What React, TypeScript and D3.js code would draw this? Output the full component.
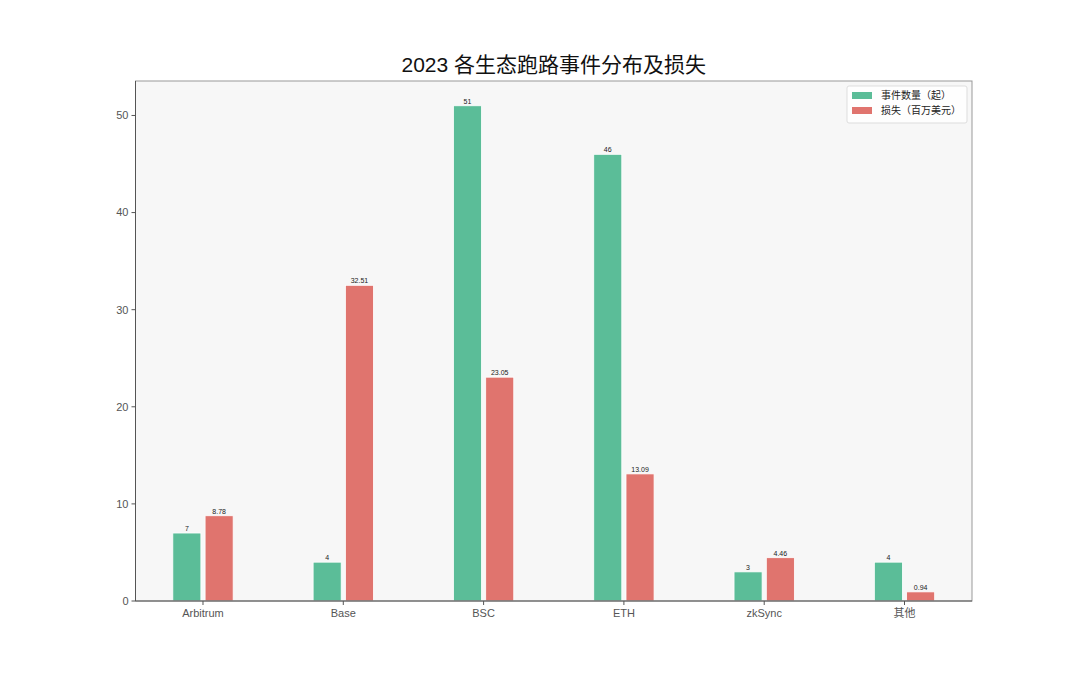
import { useMemo } from 'react';
import * as d3 from 'd3';

const categories = ['Arbitrum', 'Base', 'BSC', 'ETH', 'zkSync', '其他'];
const eventCounts = [7, 4, 51, 46, 3, 4];
const lossesMillion = [8.78, 32.51, 23.05, 13.09, 4.46, 0.94];
const countLabels = ['7', '4', '51', '46', '3', '4'];
const lossLabels = ['8.78', '32.51', '23.05', '13.09', '4.46', '0.94'];
const yTicks = [0, 10, 20, 30, 40, 50];
const seriesNames = ['事件数量（起）', '损失（百万美元）'];

const WIDTH = 1080;
const HEIGHT = 675;
const GREEN = '#5bbd98';
const RED = '#e0746e';
const FONT = '"Liberation Sans", "Noto Sans CJK SC", Arial, sans-serif';

export default function App() {
	const left = 135.5;
	const right = 972;
	const top = 81;
	const bottom = 601;

	const barWidth = 0.2;
	const offset = 0.115;

	const x = useMemo(
		() => d3.scaleLinear().domain([-0.481, categories.length - 1 + 0.481]).range([left, right]),
		[]
	);
	const y = useMemo(
		() => d3.scaleLinear().domain([0, d3.max(eventCounts)! * 1.05]).range([bottom, top]),
		[]
	);

	const bw = x(barWidth) - x(0);

	return (
		<div style={{ width: WIDTH, height: HEIGHT, margin: -8 }}>
			<svg width={WIDTH} height={HEIGHT} style={{ display: 'block', background: '#fff' }}>
				<rect x={left} y={top} width={right - left} height={bottom - top} fill="#f7f7f7" />

				{/* bars */}
				{categories.map((c, i) => {
					const gx = x(i - offset) - bw / 2;
					const rx = x(i + offset) - bw / 2;
					return (
						<g key={c}>
							<rect
								x={gx}
								y={y(eventCounts[i])}
								width={bw}
								height={y(0) - y(eventCounts[i])}
								fill={GREEN}
								stroke="#ffffff"
								strokeWidth={0.8}
							/>
							<rect
								x={rx}
								y={y(lossesMillion[i])}
								width={bw}
								height={y(0) - y(lossesMillion[i])}
								fill={RED}
								stroke="#ffffff"
								strokeWidth={0.8}
							/>
							<text
								x={gx + bw / 2}
								y={y(eventCounts[i]) - 2}
								textAnchor="middle"
								fontSize={7}
								fill="#222"
								fontFamily={FONT}
							>
								{countLabels[i]}
							</text>
							<text
								x={rx + bw / 2}
								y={y(lossesMillion[i]) - 2}
								textAnchor="middle"
								fontSize={7}
								fill="#222"
								fontFamily={FONT}
							>
								{lossLabels[i]}
							</text>
						</g>
					);
				})}

				{/* spines */}
				<rect x={left} y={top} width={right - left} height={bottom - top} fill="none" stroke="#999" strokeWidth={1} />
				<line x1={left} x2={left} y1={top} y2={bottom} stroke="#555" strokeWidth={1} />
				<line x1={left} x2={right} y1={bottom} y2={bottom} stroke="#555" strokeWidth={1} />

				{/* y axis */}
				{yTicks.map((t) => (
					<g key={t} transform={`translate(0,${y(t)})`}>
						<line x1={left - 4} x2={left} stroke="#555" />
						<text x={left - 7} dy="0.35em" textAnchor="end" fontSize={11} fill="#555" fontFamily={FONT}>
							{t}
						</text>
					</g>
				))}

				{/* x axis */}
				{categories.map((c, i) => (
					<g key={c} transform={`translate(${x(i)},${bottom})`}>
						<line y1={0} y2={4} stroke="#555" />
						<text y={16} textAnchor="middle" fontSize={11} fill="#555" fontFamily={FONT}>
							{c}
						</text>
					</g>
				))}

				{/* title */}
				<text
					x={(left + right) / 2}
					y={72}
					textAnchor="middle"
					fontSize={21}
					fill="#111"
					fontFamily={FONT}
				>
					2023 各生态跑路事件分布及损失
				</text>

				{/* legend */}
				<g transform="translate(847,86)">
					<rect width={120} height={37} rx={2} fill="#fff" fillOpacity={0.85} stroke="#ddd" />
					{seriesNames.map((s, i) => (
						<g key={s} transform={`translate(5,${6 + i * 15})`}>
							<rect width={20} height={7} fill={i === 0 ? GREEN : RED} />
							<text x={29} y={7} fontSize={10} fill="#222" fontFamily={FONT}>
								{s}
							</text>
						</g>
					))}
				</g>
			</svg>
		</div>
	);
}
